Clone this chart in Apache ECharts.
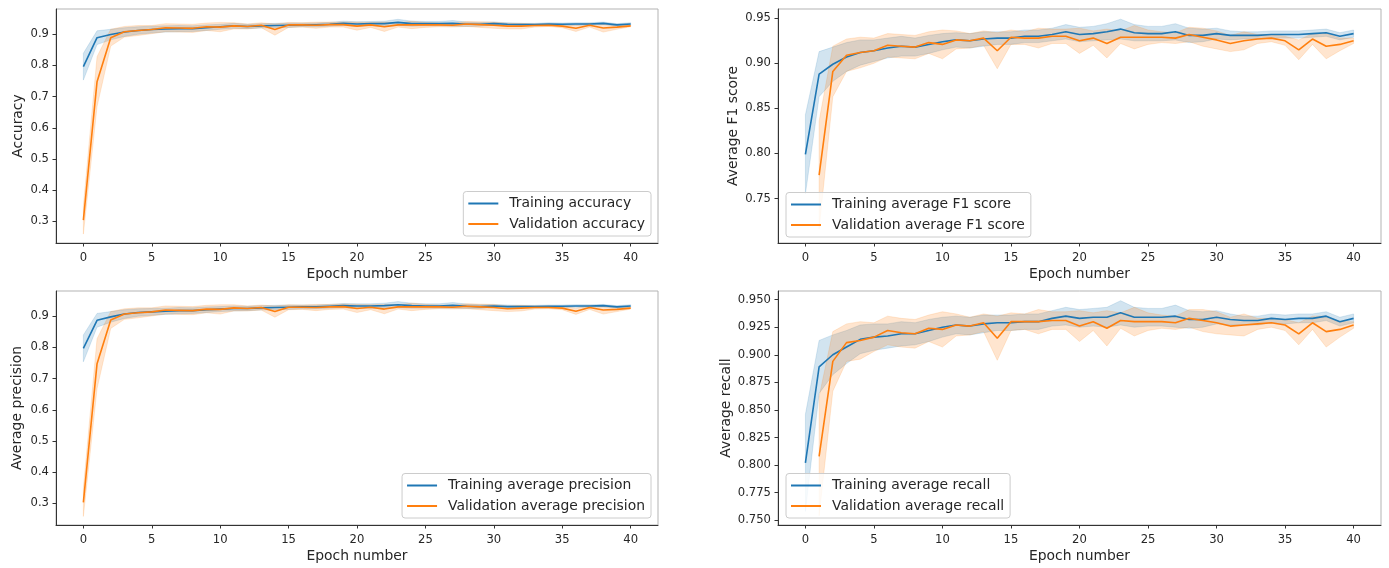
<!DOCTYPE html>
<html>
<head>
<meta charset="utf-8">
<script src="https://cdn.jsdelivr.net/npm/echarts@6/dist/echarts.min.js"></script>
<style>
    * { margin: 0; padding: 0; }
    body { background: #ffffff; }
    #main { width: 1389px; height: 568px; }
</style>
</head>
<body>
<div id="main"></div>
<script>
    var epochs = [0, 1, 2, 3, 4, 5, 6, 7, 8, 9, 10, 11, 12, 13, 14, 15, 16, 17, 18, 19, 20,
        21, 22, 23, 24, 25, 26, 27, 28, 29, 30, 31, 32, 33, 34, 35, 36, 37, 38, 39, 40];
    var epochTicks = [0, 5, 10, 15, 20, 25, 30, 35, 40];

    // accuracy
    var accTrain = [0.796, 0.889, 0.899, 0.907, 0.912, 0.915, 0.917, 0.918, 0.918, 0.921, 0.924, 0.927, 0.925, 0.927, 0.928, 0.929, 0.930, 0.930, 0.932, 0.935, 0.933,
        0.934, 0.934, 0.938, 0.934, 0.934, 0.934, 0.935, 0.932, 0.932, 0.934, 0.932, 0.931, 0.931, 0.933, 0.932, 0.933, 0.933, 0.935, 0.930, 0.933];
    var accTrainStd = [0.043, 0.022, 0.017, 0.014, 0.012, 0.011, 0.010, 0.010, 0.009, 0.009, 0.008, 0.008, 0.007, 0.007, 0.007, 0.007, 0.006, 0.006, 0.006, 0.007, 0.007,
        0.007, 0.008, 0.010, 0.008, 0.007, 0.007, 0.009, 0.007, 0.006, 0.005, 0.005, 0.004, 0.004, 0.004, 0.004, 0.004, 0.004, 0.004, 0.004, 0.004];
    var accVal = [0.304, 0.748, 0.889, 0.908, 0.912, 0.915, 0.921, 0.920, 0.919, 0.924, 0.923, 0.927, 0.925, 0.929, 0.915, 0.930, 0.930, 0.929, 0.931, 0.931, 0.926,
        0.930, 0.924, 0.930, 0.930, 0.930, 0.930, 0.929, 0.933, 0.931, 0.929, 0.926, 0.926, 0.928, 0.929, 0.926, 0.919, 0.929, 0.920, 0.923, 0.927];
    var accValStd = [0.045, 0.080, 0.027, 0.017, 0.016, 0.013, 0.013, 0.013, 0.013, 0.012, 0.015, 0.010, 0.008, 0.008, 0.018, 0.008, 0.007, 0.010, 0.008, 0.008, 0.013,
        0.008, 0.015, 0.007, 0.012, 0.008, 0.006, 0.006, 0.008, 0.009, 0.010, 0.009, 0.009, 0.005, 0.004, 0.005, 0.010, 0.006, 0.013, 0.007, 0.003];
    var accTicks = [0.3, 0.4, 0.5, 0.6, 0.7, 0.8, 0.9];

    // F1 score
    var f1Train = [0.799, 0.888, 0.899, 0.907, 0.912, 0.914, 0.917, 0.919, 0.918, 0.921, 0.924, 0.926, 0.925, 0.927, 0.928, 0.928, 0.930, 0.930, 0.932, 0.935, 0.932,
        0.933, 0.935, 0.938, 0.934, 0.933, 0.933, 0.935, 0.931, 0.931, 0.933, 0.931, 0.931, 0.931, 0.932, 0.932, 0.932, 0.933, 0.934, 0.930, 0.933];
    var f1TrainStd = [0.044, 0.025, 0.019, 0.016, 0.014, 0.012, 0.011, 0.011, 0.010, 0.010, 0.009, 0.008, 0.008, 0.008, 0.007, 0.007, 0.007, 0.007, 0.007, 0.008, 0.008,
        0.008, 0.009, 0.011, 0.009, 0.008, 0.008, 0.009, 0.008, 0.007, 0.006, 0.005, 0.004, 0.004, 0.004, 0.004, 0.004, 0.004, 0.004, 0.004, 0.004];
    var f1Val = [null, 0.776, 0.891, 0.909, 0.912, 0.914, 0.920, 0.919, 0.918, 0.923, 0.921, 0.926, 0.925, 0.928, 0.914, 0.929, 0.928, 0.928, 0.930, 0.930, 0.925,
        0.928, 0.922, 0.929, 0.929, 0.929, 0.929, 0.928, 0.932, 0.929, 0.926, 0.922, 0.925, 0.927, 0.928, 0.925, 0.915, 0.927, 0.919, 0.921, 0.925];
    var f1ValStd = [null, 0.060, 0.028, 0.018, 0.017, 0.014, 0.013, 0.013, 0.013, 0.012, 0.016, 0.010, 0.008, 0.008, 0.020, 0.008, 0.007, 0.011, 0.008, 0.008, 0.014,
        0.008, 0.016, 0.007, 0.013, 0.008, 0.006, 0.006, 0.008, 0.010, 0.010, 0.009, 0.010, 0.005, 0.004, 0.005, 0.011, 0.006, 0.014, 0.007, 0.003];
    var f1Ticks = [0.75, 0.80, 0.85, 0.90, 0.95];

    // precision
    var precTrain = [0.797, 0.887, 0.898, 0.907, 0.912, 0.914, 0.916, 0.918, 0.918, 0.921, 0.923, 0.925, 0.925, 0.927, 0.928, 0.929, 0.930, 0.930, 0.932, 0.934, 0.933,
        0.933, 0.934, 0.937, 0.934, 0.933, 0.933, 0.935, 0.932, 0.931, 0.933, 0.931, 0.931, 0.931, 0.932, 0.932, 0.933, 0.933, 0.934, 0.930, 0.933];
    var precTrainStd = [0.043, 0.022, 0.017, 0.014, 0.012, 0.011, 0.010, 0.010, 0.009, 0.009, 0.008, 0.008, 0.007, 0.007, 0.007, 0.007, 0.006, 0.006, 0.006, 0.007, 0.007,
        0.007, 0.008, 0.010, 0.008, 0.007, 0.007, 0.009, 0.007, 0.006, 0.005, 0.005, 0.004, 0.004, 0.004, 0.004, 0.004, 0.004, 0.004, 0.004, 0.004];
    var precVal = [0.303, 0.748, 0.888, 0.907, 0.911, 0.914, 0.920, 0.919, 0.918, 0.923, 0.922, 0.927, 0.925, 0.928, 0.915, 0.929, 0.929, 0.928, 0.930, 0.931, 0.925,
        0.929, 0.923, 0.930, 0.930, 0.930, 0.930, 0.929, 0.932, 0.930, 0.928, 0.924, 0.926, 0.928, 0.928, 0.926, 0.916, 0.928, 0.920, 0.922, 0.926];
    var precValStd = [0.045, 0.080, 0.027, 0.017, 0.016, 0.013, 0.013, 0.013, 0.013, 0.012, 0.015, 0.010, 0.008, 0.008, 0.018, 0.008, 0.007, 0.010, 0.008, 0.008, 0.013,
        0.008, 0.015, 0.007, 0.012, 0.008, 0.006, 0.006, 0.008, 0.009, 0.010, 0.009, 0.009, 0.005, 0.004, 0.005, 0.010, 0.006, 0.013, 0.007, 0.003];
    var precTicks = [0.3, 0.4, 0.5, 0.6, 0.7, 0.8, 0.9];

    // recall
    var recTrain = [0.802, 0.889, 0.900, 0.907, 0.914, 0.916, 0.917, 0.919, 0.919, 0.922, 0.925, 0.927, 0.926, 0.928, 0.929, 0.929, 0.930, 0.930, 0.933, 0.935, 0.933,
        0.934, 0.934, 0.938, 0.934, 0.934, 0.934, 0.935, 0.932, 0.932, 0.934, 0.932, 0.931, 0.931, 0.933, 0.932, 0.933, 0.933, 0.935, 0.930, 0.933];
    var recTrainStd = [0.044, 0.024, 0.018, 0.015, 0.013, 0.012, 0.011, 0.011, 0.010, 0.010, 0.009, 0.008, 0.008, 0.008, 0.007, 0.007, 0.007, 0.007, 0.007, 0.008, 0.008,
        0.008, 0.009, 0.011, 0.009, 0.008, 0.008, 0.010, 0.008, 0.007, 0.006, 0.005, 0.004, 0.004, 0.004, 0.004, 0.004, 0.004, 0.004, 0.004, 0.004];
    var recVal = [null, 0.808, 0.894, 0.911, 0.913, 0.916, 0.922, 0.920, 0.919, 0.924, 0.923, 0.927, 0.926, 0.929, 0.915, 0.930, 0.930, 0.930, 0.931, 0.931, 0.926,
        0.930, 0.924, 0.931, 0.930, 0.930, 0.930, 0.929, 0.933, 0.931, 0.929, 0.926, 0.927, 0.928, 0.929, 0.927, 0.919, 0.929, 0.921, 0.923, 0.927];
    var recValStd = [null, 0.054, 0.027, 0.017, 0.017, 0.013, 0.013, 0.013, 0.013, 0.012, 0.016, 0.010, 0.008, 0.008, 0.020, 0.008, 0.007, 0.011, 0.008, 0.008, 0.014,
        0.008, 0.016, 0.007, 0.013, 0.008, 0.006, 0.006, 0.008, 0.010, 0.010, 0.008, 0.010, 0.005, 0.004, 0.005, 0.010, 0.006, 0.014, 0.007, 0.003];
    var recTicks = [0.750, 0.775, 0.800, 0.825, 0.850, 0.875, 0.900, 0.925, 0.950];

    var blue = '#1f77b4';
    var orange = '#ff7f0e';
    var font = 'DejaVu Sans';
    var ink = '#262626';

    // one entry per subplot: layout + which arrays it draws
    var panels = [
        {
            grid: {left: 56, top: 9, width: 602, height: 234},
            yMin: 0.2304, yMax: 0.981, ticks: accTicks, digits: 1,
            yName: 'Accuracy', yNameGap: 31,
            train: accTrain, trainStd: accTrainStd, val: accVal, valStd: accValStd,
            trainName: 'Training accuracy', valName: 'Validation accuracy',
            legend: {right: 738, bottom: 332}
        },
        {
            grid: {left: 778, top: 9, width: 603, height: 234},
            yMin: 0.7006, yMax: 0.9603, ticks: f1Ticks, digits: 2,
            yName: 'Average F1 score', yNameGap: 38,
            train: f1Train, trainStd: f1TrainStd, val: f1Val, valStd: f1ValStd,
            trainName: 'Training average F1 score', valName: 'Validation average F1 score',
            legend: {left: 786, bottom: 331}
        },
        {
            grid: {left: 56, top: 291, width: 602, height: 234},
            yMin: 0.2305, yMax: 0.981, ticks: precTicks, digits: 1,
            yName: 'Average precision', yNameGap: 32,
            train: precTrain, trainStd: precTrainStd, val: precVal, valStd: precValStd,
            trainName: 'Training average precision', valName: 'Validation average precision',
            legend: {right: 738, bottom: 50}
        },
        {
            grid: {left: 778, top: 291, width: 603, height: 234},
            yMin: 0.7457, yMax: 0.9578, ticks: recTicks, digits: 3,
            yName: 'Average recall', yNameGap: 45,
            train: recTrain, trainStd: recTrainStd, val: recVal, valStd: recValStd,
            trainName: 'Training average recall', valName: 'Validation average recall',
            legend: {left: 786, bottom: 50}
        }
    ];

    function linePoints(values) {
        var pts = [];
        for (var i = 0; i < epochs.length; i++) {
            if (values[i] != null) pts.push([epochs[i], values[i]]);
        }
        return pts;
    }

    function bandRows(values, std) {
        var rows = [];
        for (var i = 0; i < epochs.length; i++) {
            if (values[i] != null) rows.push([epochs[i], values[i] - std[i], values[i] + std[i]]);
        }
        return rows;
    }

    // shaded band drawn as one polygon through the axis scale
    function bandSeries(k, rows, fill) {
        return {
            type: 'custom',
            xAxisIndex: k,
            yAxisIndex: k,
            silent: true,
            clip: true,
            z: 1,
            data: rows,
            encode: {x: 0, y: [1, 2]},
            renderItem: function (params, api) {
                if (params.dataIndex !== 0) return;
                var upper = rows.map(function (r) { return api.coord([r[0], r[2]]); });
                var lower = rows.map(function (r) { return api.coord([r[0], r[1]]); }).reverse();
                return {
                    type: 'polygon',
                    shape: {points: upper.concat(lower)},
                    style: {fill: fill, stroke: fill, lineWidth: 0.8}
                };
            }
        };
    }

    var grids = [], xAxes = [], yAxes = [], legends = [], series = [];

    panels.forEach(function (p, k) {
        grids.push(Object.assign({show: true, borderColor: '#b3b3b3', borderWidth: 1, backgroundColor: 'transparent'}, p.grid));

        xAxes.push({
            type: 'value', gridIndex: k, min: -2, max: 42,
            name: 'Epoch number', nameLocation: 'middle', nameGap: 24,
            nameTextStyle: {fontFamily: font, fontSize: 13.9, color: ink},
            axisLine: {show: true, onZero: false, lineStyle: {color: '#333333', width: 1}},
            axisTick: {show: true, length: 3.5, customValues: epochTicks, lineStyle: {color: '#333333'}},
            axisLabel: {customValues: epochTicks, margin: 9, fontFamily: font, fontSize: 11.6, color: ink},
            splitLine: {show: false}
        });

        yAxes.push({
            type: 'value', gridIndex: k, min: p.yMin, max: p.yMax,
            name: p.yName, nameLocation: 'middle', nameGap: p.yNameGap,
            nameTextStyle: {fontFamily: font, fontSize: 13.9, color: ink},
            axisLine: {show: true, onZero: false, lineStyle: {color: '#333333', width: 1}},
            axisTick: {show: true, length: 3.5, customValues: p.ticks, lineStyle: {color: '#333333'}},
            axisLabel: {
                customValues: p.ticks, margin: 7, fontFamily: font, fontSize: 11.6, color: ink,
                formatter: (function (d) { return function (v) { return v.toFixed(d); }; })(p.digits)
            },
            splitLine: {show: false}
        });

        series.push(bandSeries(k, bandRows(p.train, p.trainStd), 'rgba(31,119,180,0.2)'));
        series.push(bandSeries(k, bandRows(p.val, p.valStd), 'rgba(255,127,14,0.2)'));

        series.push({
            name: p.trainName, type: 'line', xAxisIndex: k, yAxisIndex: k,
            data: linePoints(p.train), symbol: 'none', showSymbol: false, z: 3,
            color: blue, lineStyle: {color: blue, width: 1.6}
        });
        series.push({
            name: p.valName, type: 'line', xAxisIndex: k, yAxisIndex: k,
            data: linePoints(p.val), symbol: 'none', showSymbol: false, z: 3,
            color: orange, lineStyle: {color: orange, width: 1.6}
        });

        legends.push(Object.assign({
            data: [p.trainName, p.valName],
            orient: 'vertical',
            icon: 'rect',
            itemWidth: 30,
            itemHeight: 2,
            itemGap: 6.5,
            padding: [5, 6, 5, 5],
            backgroundColor: 'rgba(255,255,255,0.8)',
            borderColor: '#cccccc',
            borderWidth: 1,
            borderRadius: 3,
            selectedMode: false,
            z: 10,
            textStyle: {fontFamily: font, fontSize: 13.9, color: ink, padding: [0, 0, 0, 6]}
        }, p.legend));
    });

    var myChart = echarts.init(document.getElementById('main'), null, {renderer: 'canvas'});
    var option = {
        animation: false,
        backgroundColor: '#ffffff',
        grid: grids,
        xAxis: xAxes,
        yAxis: yAxes,
        legend: legends,
        series: series
    };
    myChart.setOption(option);
</script>
</body>
</html>
